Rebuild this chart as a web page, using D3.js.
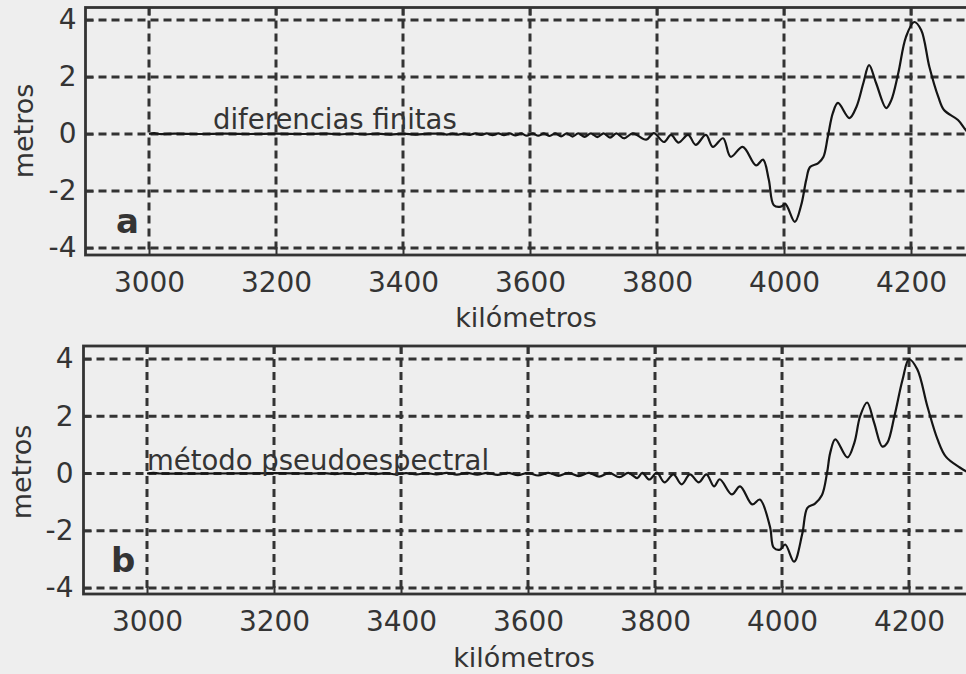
<!DOCTYPE html>
<html>
<head>
<meta charset="utf-8">
<script src="https://cdn.jsdelivr.net/npm/d3@7"></script>
<style>
  html, body { margin: 0; padding: 0; background: #eeeeee; }
  svg { display: block; }
  text { font-family: "DejaVu Sans", sans-serif; fill: #343434; }
</style>
</head>
<body>
<svg id="chart" width="966" height="674"></svg>
<script>
// Axis ticks and labels
const kmTicks = [3000, 3200, 3400, 3600, 3800, 4000, 4200];
const mTicks = [-4, -2, 0, 2, 4];
const xTitle = "kilómetros";
const yTitle = "metros";
const panelLetters = ["a", "b"];
const panelNotes = ["diferencias finitas", "método pseudoespectral"];

// Sea-surface elevation (m) versus distance (km), finite-difference solution
const diferenciasFinitas = [
  [3000, 0], [3008, 0.03], [3016, 0], [3040, 0.01], [3080, 0], [3120, 0.01], [3160, 0],
  [3200, 0.01], [3240, 0], [3280, 0.01], [3300, -0.01], [3320, 0.01], [3340, -0.01],
  [3360, 0.01], [3380, -0.02], [3400, 0.01], [3420, -0.02], [3440, 0.01], [3460, 0.01],
  [3469, -0.02], [3478, 0.01], [3487, -0.02], [3496, 0.01], [3505, -0.03], [3514, 0.02],
  [3523, -0.03], [3532, 0.02], [3541, -0.04], [3550, 0.02], [3559, -0.04], [3568, 0.02],
  [3577, -0.05], [3586, 0.02], [3595, -0.06], [3604, 0.02], [3613, -0.06], [3622, 0.02],
  [3631, -0.07], [3640, 0.02], [3649, -0.08], [3658, 0.02], [3667, -0.09], [3676, 0.02],
  [3686, -0.10], [3696, 0.02], [3706, -0.11], [3716, 0.02], [3726, -0.13], [3736, 0.02],
  [3748, -0.15], [3762, 0.02], [3783, -0.20], [3795, 0.03], [3811, -0.28], [3822, -0.03],
  [3834, -0.30], [3849, -0.03], [3861, -0.38], [3877, -0.03], [3888, -0.45], [3904, -0.15],
  [3916, -0.80], [3935, -0.45], [3956, -1.10], [3967, -0.90], [3976, -1.60], [3984, -2.50],
  [3995, -2.55], [4002, -2.45], [4017, -3.08], [4027, -2.50], [4035, -1.61], [4041, -1.16],
  [4054, -1.02], [4062, -0.81], [4069, -0.10], [4077, 0.74], [4085, 1.09], [4103, 0.56],
  [4114, 0.95], [4125, 1.79], [4134, 2.42], [4145, 1.79], [4161, 0.91], [4169, 1.19],
  [4180, 2.14], [4192, 3.40], [4205, 3.93], [4216, 3.65], [4229, 2.35], [4243, 1.30],
  [4252, 0.84], [4274, 0.49], [4289, 0.07], [4300, -0.10]
];

// Same profile, pseudospectral solution
const pseudoespectral = [
  [3000, 0], [3010, 0.02], [3020, 0], [3100, 0], [3200, 0.01], [3260, 0], [3280, 0.01],
  [3296, -0.02], [3312, 0.01], [3328, -0.02], [3344, 0.01], [3360, -0.02], [3376, 0.01],
  [3392, -0.03], [3408, 0.01], [3424, -0.03], [3440, 0.01], [3456, -0.03], [3472, 0.02],
  [3488, -0.04], [3504, 0.02], [3520, -0.04], [3536, 0.02], [3552, -0.05], [3568, 0.02],
  [3584, -0.06], [3600, 0.02], [3616, -0.07], [3632, 0.02], [3648, -0.08], [3664, 0.02],
  [3680, -0.09], [3696, 0.02], [3712, -0.11], [3728, 0.02], [3744, -0.13], [3758, 0.02],
  [3772, -0.16], [3780, 0.02], [3791, -0.21], [3803, 0.03], [3815, -0.31], [3829, -0.03],
  [3842, -0.38], [3855, -0.03], [3869, -0.31], [3881, -0.03], [3893, -0.45], [3902, -0.20],
  [3921, -0.73], [3934, -0.45], [3953, -1.08], [3965, -0.91], [3981, -1.85], [3987, -2.59],
  [3997, -2.66], [4005, -2.48], [4019, -3.08], [4032, -2.10], [4040, -1.20], [4052, -1.05],
  [4063, -0.75], [4071, 0.03], [4076, 0.73], [4084, 1.19], [4103, 0.56], [4114, 1.08],
  [4123, 2.00], [4134, 2.48], [4145, 1.78], [4158, 0.94], [4166, 1.08], [4177, 2.00],
  [4190, 3.29], [4200, 3.99], [4213, 3.64], [4229, 2.34], [4245, 1.19], [4258, 0.59],
  [4280, 0.21], [4294, 0.03], [4300, -0.03]
];

const series = [diferenciasFinitas, pseudoespectral];

// Panel frames: pixel box of each axes area
const panels = [
  { left: 85.5, right: 974.5, top: 7.5, bottom: 255, yTop: 20, yBottom: 248,
    letter: { x: 116, y: 233 }, note: { x: 213, y: 129 },
    xTitle: { x: 526, y: 327 }, yTitle: { x: 33, y: 131 }, yLabelPad: 9 },
  { left: 83.5, right: 972.5, top: 346, bottom: 594, yTop: 359, yBottom: 588,
    letter: { x: 111, y: 572 }, note: { x: 147, y: 470 },
    xTitle: { x: 524, y: 667 }, yTitle: { x: 31, y: 472 }, yLabelPad: 10 }
];

const ink = "#333333";
const plain = d => String(d);   // hyphen minus, no thousands separator
const svg = d3.select("#chart");

panels.forEach((p, i) => {
  const x = d3.scaleLinear().domain([2900, 4300]).range([p.left, p.right]);
  const y = d3.scaleLinear().domain([-4, 4]).range([p.yBottom, p.yTop]);
  const g = svg.append("g");

  // dashed grid
  const grid = g.append("g").attr("stroke", ink).attr("stroke-width", 3)
    .attr("stroke-dasharray", "8,5");
  grid.selectAll(".vg").data(kmTicks).join("line")
    .attr("x1", d => x(d)).attr("x2", d => x(d))
    .attr("y1", p.top).attr("y2", p.bottom);
  grid.selectAll(".hg").data(mTicks).join("line")
    .attr("x1", p.left).attr("x2", p.right)
    .attr("y1", d => y(d)).attr("y2", d => y(d));

  // inward ticks on the frame
  const tickStyle = sel => {
    sel.select(".domain").remove();
    sel.selectAll("line").attr("stroke", ink).attr("stroke-width", 2);
    sel.selectAll("text").remove();
  };
  g.append("g").attr("transform", `translate(0,${p.bottom})`)
    .call(d3.axisBottom(x).tickValues(kmTicks).tickSize(-8)).call(tickStyle);
  g.append("g").attr("transform", `translate(0,${p.top})`)
    .call(d3.axisTop(x).tickValues(kmTicks).tickSize(-8)).call(tickStyle);
  g.append("g").attr("transform", `translate(${p.left},0)`)
    .call(d3.axisLeft(y).tickValues(mTicks).tickSize(-8)).call(tickStyle);

  // frame
  g.append("rect")
    .attr("x", p.left).attr("y", p.top)
    .attr("width", p.right - p.left).attr("height", p.bottom - p.top)
    .attr("fill", "none").attr("stroke", ink).attr("stroke-width", 2.8);

  // tick labels
  const xl = g.append("g").attr("transform", `translate(0,${p.bottom})`)
    .call(d3.axisBottom(x).tickValues(kmTicks).tickFormat(plain).tickSize(0).tickPadding(17));
  xl.select(".domain").remove();
  xl.selectAll("text").attr("font-size", 28).attr("fill", ink)
    .attr("font-family", "DejaVu Sans, sans-serif");

  const yl = g.append("g").attr("transform", `translate(${p.left},0)`)
    .call(d3.axisLeft(y).tickValues(mTicks).tickFormat(plain).tickSize(0).tickPadding(p.yLabelPad));
  yl.select(".domain").remove();
  yl.selectAll("text").attr("font-size", 28).attr("fill", ink)
    .attr("font-family", "DejaVu Sans, sans-serif");

  // elevation profile
  const line = d3.line().x(d => x(d[0])).y(d => y(d[1]))
    .curve(d3.curveCatmullRom.alpha(0.5));
  g.append("path").datum(series[i])
    .attr("d", line).attr("fill", "none")
    .attr("stroke", "#151515").attr("stroke-width", 2.2)
    .attr("stroke-linejoin", "round");

  // annotations
  g.append("text").attr("x", p.note.x).attr("y", p.note.y)
    .attr("font-size", 27.5).text(panelNotes[i]);
  g.append("text").attr("x", p.letter.x).attr("y", p.letter.y)
    .attr("font-size", 34).attr("font-weight", "bold").text(panelLetters[i]);

  // axis titles
  g.append("text").attr("x", p.xTitle.x).attr("y", p.xTitle.y)
    .attr("text-anchor", "middle").attr("font-size", 27).text(xTitle);
  g.append("text")
    .attr("transform", `translate(${p.yTitle.x},${p.yTitle.y}) rotate(-90)`)
    .attr("text-anchor", "middle").attr("font-size", 27).text(yTitle);
});
</script>
</body>
</html>
